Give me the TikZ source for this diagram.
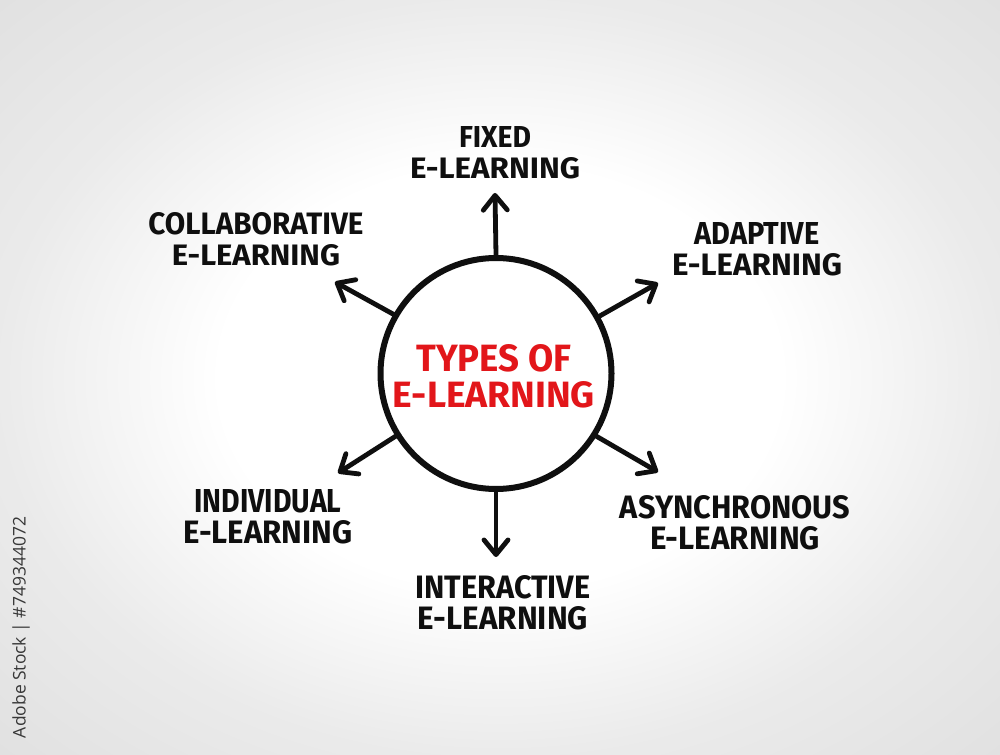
\documentclass[tikz,border=0pt]{standalone}
\usepackage{fontspec}
\setmainfont{Fira Sans}
\newfontfamily\wmfont{Open Sans}
\usetikzlibrary{arrows.meta}
\newlength\px \setlength\px{0.75pt}
\definecolor{mred}{RGB}{226,22,26}
\definecolor{ink}{RGB}{15,15,15}
\definecolor{wmgray}{RGB}{55,55,55}
\newcommand\fitw[3]{\resizebox{#1\px}{#2\px}{\bfseries #3}}
\pgfdeclareradialshading{bgshade}{\pgfpoint{0bp}{0bp}}{%
  color(0bp)=(white); color(14bp)=(white); color(25bp)=(black!8);
  color(36bp)=(black!12); color(50bp)=(black!12)}
\begin{document}
\begin{tikzpicture}[x=0.75pt,y=-0.75pt,
  lbl/.style={align=center, inner sep=0pt, text=ink,
    font=\fontsize{20}{23.25pt}\selectfont},
  ctr/.style={align=center, inner sep=0pt, text=mred,
    font=\fontsize{20}{27pt}\selectfont},
  hub/.style={circle, draw=ink, line width=4.5pt, fill=white,
    minimum size=173.25pt, inner sep=0pt},
  arr/.style={draw=ink, line width=3.6pt, line cap=round,
    -{Straight Barb[length=11pt,width=18pt,line cap=round,line join=round]}}]
  % background
  \shade[shading=bgshade] (0,0) rectangle (1000,755);
  \useasboundingbox (0,0) rectangle (1000,755);
  % hub
  \node[hub] (c) at (496,373.5) {};
  \node[ctr] (title) at (494,376)
    {\fitw{155}{27}{TYPES OF}\\\fitw{202}{26}{E-LEARNING}};
  % arrow ends
  \coordinate (tU) at (495,193);
  \coordinate (tUL) at (335,282);
  \coordinate (tUR) at (658,283);
  \coordinate (tLL) at (338,473);
  \coordinate (tLR) at (658,472);
  \coordinate (tD) at (496,557);
  \draw[arr] (c.90) -- (tU);
  \draw[arr] (c.150.4) -- (tUL);
  \draw[arr] (c.29.2) -- (tUR);
  \draw[arr] (c.212.2) -- (tLL);
  \draw[arr] (c.328.7) -- (tLR);
  \draw[arr] (c.270) -- (tD);
  % labels
  \node[lbl] (fixed) at (495,152.5)
    {\fitw{72}{21}{FIXED}\\\fitw{170}{21}{E-LEARNING}};
  \node[lbl] (collab) at (256,239)
    {\fitw{215}{22}{COLLABORATIVE}\\\fitw{168}{21}{E-LEARNING}};
  \node[lbl] (adapt) at (757,249)
    {\fitw{125}{22}{ADAPTIVE}\\\fitw{170}{22}{E-LEARNING}};
  \node[lbl] (indiv) at (268,516.5)
    {\fitw{147}{23}{INDIVIDUAL}\\\fitw{169}{23}{E-LEARNING}};
  \node[lbl] (inter) at (503,602.5)
    {\fitw{175}{23}{INTERACTIVE}\\\fitw{170}{23}{E-LEARNING}};
  \node[lbl] (async) at (735,522.5)
    {\fitw{230}{23}{ASYNCHRONOUS}\\\fitw{170}{23}{E-LEARNING}};
  % side credit
  \node[rotate=90, inner sep=0pt, text=wmgray] (credit) at (21,627.5)
    {\resizebox{221\px}{!}{\wmfont Adobe Stock | \#749344072}};
\end{tikzpicture}
\end{document}
